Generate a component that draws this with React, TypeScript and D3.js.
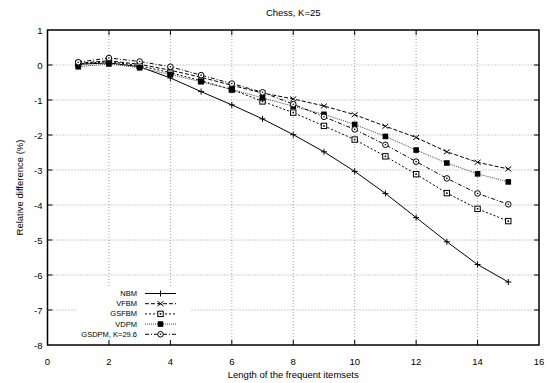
import React from "react";
import * as d3 from "d3";

const lengths = [1, 2, 3, 4, 5, 6, 7, 8, 9, 10, 11, 12, 13, 14, 15];
const nbm = [0.02, 0.06, -0.05, -0.37, -0.76, -1.14, -1.54, -1.99, -2.48, -3.04, -3.67, -4.36, -5.05, -5.7, -6.2];
const vfbm = [0.05, 0.12, 0.02, -0.15, -0.35, -0.58, -0.8, -0.97, -1.17, -1.42, -1.75, -2.07, -2.48, -2.78, -2.97];
const gsfbm = [0.03, 0.1, -0.02, -0.22, -0.45, -0.7, -1.04, -1.36, -1.74, -2.13, -2.61, -3.12, -3.66, -4.11, -4.46];
const vdpm = [-0.05, 0.03, -0.08, -0.27, -0.48, -0.7, -0.94, -1.18, -1.41, -1.7, -2.04, -2.43, -2.8, -3.11, -3.34];
const gsdpm = [0.08, 0.2, 0.1, -0.05, -0.29, -0.53, -0.78, -1.12, -1.48, -1.84, -2.28, -2.76, -3.24, -3.67, -3.98];

const xTicks = [0, 2, 4, 6, 8, 10, 12, 14, 16];
const yTicks = [1, 0, -1, -2, -3, -4, -5, -6, -7, -8];

const seriesNames = ["NBM", "VFBM", "GSFBM", "VDPM", "GSDPM, K=29.6"];
const seriesValues = [nbm, vfbm, gsfbm, vdpm, gsdpm];
const dashes = ["none", "4,2", "2,2", "1,1", "4,2,1,2"];
const markers = ["plus", "cross", "square", "fsquare", "circle"];

const W = 551;
const H = 383;
const L = 47.5, R = 539, T = 30, B = 345;
const FONT = "'Liberation Sans', Arial, Helvetica, sans-serif";

function Marker({ type, x, y }: { type: string; x: number; y: number }) {
  const s = 3;
  if (type === "plus")
    return <path d={`M${x - s},${y}H${x + s}M${x},${y - s}V${y + s}`} stroke="#000" strokeWidth={1} fill="none" />;
  if (type === "cross")
    return <path d={`M${x - s},${y - s * 0.8}L${x + s},${y + s * 0.8}M${x - s},${y + s * 0.8}L${x + s},${y - s * 0.8}`} stroke="#000" strokeWidth={1} fill="none" />;
  if (type === "square")
    return (
      <g>
        <rect x={x - 2.7} y={y - 2.7} width={5.4} height={5.4} fill="#fff" stroke="#000" strokeWidth={1} />
        <rect x={x - 0.8} y={y - 0.8} width={1.6} height={1.6} fill="#000" />
      </g>
    );
  if (type === "fsquare") return <rect x={x - 2.8} y={y - 2.8} width={5.6} height={5.6} fill="#000" />;
  return (
    <g>
      <circle cx={x} cy={y} r={2.8} fill="#fff" stroke="#000" strokeWidth={1} />
      <circle cx={x} cy={y} r={0.8} fill="#000" />
    </g>
  );
}

export default function App() {
  const x = d3.scaleLinear().domain([0, 16]).range([L, R]);
  const y = d3.scaleLinear().domain([-8, 1]).range([B, T]);
  const line = d3
    .line<number>()
    .x((_, i) => x(lengths[i]))
    .y((d) => y(d));

  const legX = 137, legLineX0 = 145, legLineX1 = 176, legY0 = 293.5, legDY = 10.2;

  return (
    <svg width={W} height={H} style={{ position: "absolute", left: 0, top: 0, background: "#fff" }} fontFamily={FONT}>
      <rect x={0} y={0} width={W} height={H} fill="#fff" />
      {/* grid */}
      {xTicks.slice(1, -1).map((t) => (
        <line key={"gx" + t} x1={x(t)} x2={x(t)} y1={T} y2={B} stroke="#888" strokeWidth={0.8} strokeDasharray="1,2" />
      ))}
      {yTicks.slice(1, -1).map((t) => (
        <line key={"gy" + t} x1={L} x2={R} y1={y(t)} y2={y(t)} stroke="#888" strokeWidth={0.8} strokeDasharray="1,2" />
      ))}
      {/* legend background */}
      <rect x={76} y={287} width={114} height={54} fill="#fff" />
      {/* ticks */}
      {xTicks.slice(1, -1).map((t) => (
        <g key={"tx" + t}>
          <line x1={x(t)} x2={x(t)} y1={B} y2={B - 5} stroke="#000" strokeWidth={1} />
          <line x1={x(t)} x2={x(t)} y1={T} y2={T + 5} stroke="#000" strokeWidth={1} />
        </g>
      ))}
      {yTicks.slice(1, -1).map((t) => (
        <g key={"ty" + t}>
          <line x1={L} x2={L + 5} y1={y(t)} y2={y(t)} stroke="#000" strokeWidth={1} />
          <line x1={R} x2={R - 5} y1={y(t)} y2={y(t)} stroke="#000" strokeWidth={1} />
        </g>
      ))}
      {/* series */}
      {seriesValues.map((vals, si) => (
        <g key={"s" + si}>
          <path d={line(vals) || ""} fill="none" stroke={si === 3 ? "#444" : "#000"} strokeWidth={1} strokeDasharray={dashes[si]} />
          {vals.map((v, i) => (
            <Marker key={i} type={markers[si]} x={x(lengths[i])} y={y(v)} />
          ))}
        </g>
      ))}
      {/* border */}
      <rect x={L} y={T} width={R - L} height={B - T} fill="none" stroke="#000" strokeWidth={1.5} />
      {/* tick labels */}
      {xTicks.map((t) => (
        <text key={"lx" + t} x={x(t)} y={B + 20} fontSize={9.5} textAnchor="middle">
          {t}
        </text>
      ))}
      {yTicks.map((t) => (
        <text key={"ly" + t} x={L - 5} y={y(t) + 3.5} fontSize={9.5} textAnchor="end">
          {t}
        </text>
      ))}
      {/* titles */}
      <text x={(L + R) / 2} y={16} fontSize={9.5} textAnchor="middle">
        Chess, K=25
      </text>
      <text x={(L + R) / 2} y={378} fontSize={9.5} textAnchor="middle">
        Length of the frequent itemsets
      </text>
      <text transform={`translate(23,${(T + B) / 2}) rotate(-90)`} fontSize={9.5} textAnchor="middle">
        Relative difference (%)
      </text>
      {/* legend */}
      {seriesNames.map((n, i) => {
        const ly = legY0 + i * legDY;
        return (
          <g key={"leg" + i}>
            <text x={legX} y={ly + 2.5} fontSize={7.5} textAnchor="end">
              {n}
            </text>
            <line x1={legLineX0} x2={legLineX1} y1={ly} y2={ly} stroke={i === 3 ? "#444" : "#000"} strokeWidth={1} strokeDasharray={dashes[i]} />
            <Marker type={markers[i]} x={(legLineX0 + legLineX1) / 2} y={ly} />
          </g>
        );
      })}
    </svg>
  );
}
